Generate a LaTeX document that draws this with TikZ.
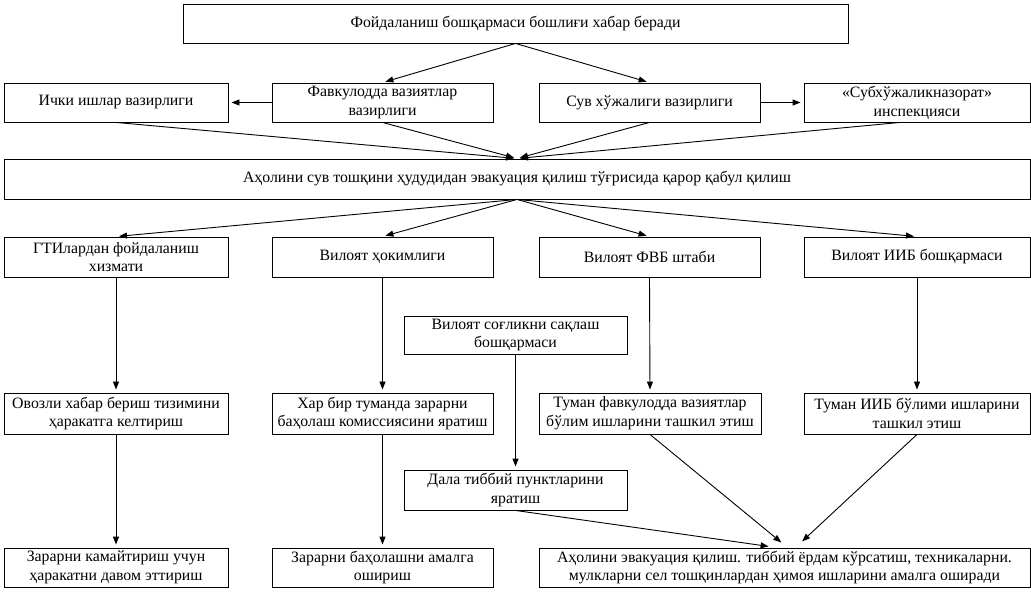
\documentclass[tikz,border=0pt]{standalone}
\usepackage{fontspec}
\setmainfont{Liberation Serif}
\usetikzlibrary{arrows.meta}

\begin{document}
\begin{tikzpicture}
[x=1pt,y=-1pt,
  boxDecorate/.style={shape=rectangle,draw,line width=0.9pt,inner sep=0pt,align=center,%
    font=\fontsize{15.8}{18.8}\selectfont},
  lineDecorate/.style={-{Triangle[length=8pt,width=6pt]},line width=0.9pt}]
\useasboundingbox (0,0) rectangle (1031,593);
%% boxes
\foreach \nodename/\x/\y/\w/\h/\txt in {
  top/515.5/23.5/665/39/{Фойдаланиш бошқармаси бошлиғи хабар беради},
  mvd/116/102.5/224/39/{Ички ишлар вазирлиги},
  fvv/382.5/102.5/221/39/{Фавкулодда вазиятлар\\вазирлиги},
  svx/649.5/102.5/221/39/{Сув хўжалиги вазирлиги},
  snaz/917/102.5/226/39/{«Субхўжаликназорат»\\инспекцияси},
  evak/517/179/1026/40/{Аҳолини сув тошқини ҳудудидан эвакуация қилиш тўғрисида қарор қабул қилиш},
  gti/116/257/224/40/{ГТИлардан фойдаланиш\\хизмати},
  hok/382.5/257/221/40/{Вилоят ҳокимлиги},
  fvb/649.5/257/221/40/{Вилоят ФВБ штаби},
  iib/917/257/226/40/{Вилоят ИИБ бошқармаси},
  sog/515.5/335/223/38/{Вилоят соғликни сақлаш\\бошқармаси},
  ovoz/116/413.5/224/41/{Овозли хабар бериш тизимини\\ҳаракатга келтириш},
  har/382.5/413.5/221/41/{Хар бир туманда зарарни\\баҳолаш комиссиясини яратиш},
  tfv/650/413.5/222/41/{Туман фавкулодда вазиятлар\\бўлим ишларини ташкил этиш},
  tiib/917/413.5/226/41/{Туман ИИБ бўлими ишларини\\ташкил этиш},
  dala/515.5/490/223/40/{Дала тиббий пунктларини\\яратиш},
  kam/116/567.5/224/39/{Зарарни камайтириш учун\\ҳаракатни давом эттириш},
  bah/382.5/567.5/221/39/{Зарарни баҳолашни амалга\\ошириш},
  aholi/784.5/567.5/491/39/{Аҳолини эвакуация қилиш. тиббий ёрдам кўрсатиш, техникаларни.\\мулкларни сел тошқинлардан ҳимоя ишларини амалга оширади}}
{
  \node (\nodename) at (\x,\y) [boxDecorate,minimum width=\w pt,minimum height=\h pt] {\txt};
}
%% arrows
\path
\foreach \startnode/\endnode in {
  top.south/fvv.north, top.south/svx.north,
  mvd.south/evak.north, fvv.south/evak.north, svx.south/evak.north,
  evak.south/gti.north, evak.south/hok.north, evak.south/fvb.north, evak.south/iib.north,
  gti.south/ovoz.north, hok.south/har.north, fvb.south/tfv.north, iib.south/tiib.north,
  sog.south/dala.north, ovoz.south/kam.north, har.south/bah.north}
{
  (\startnode) edge[lineDecorate,shorten >=3pt] (\endnode)
};
\draw[lineDecorate,shorten >=3pt] ([xshift=-17pt]snaz.south) -- (evak.north);
\draw[lineDecorate,shorten >=3pt] (fvv.west) -- (mvd.east);
\draw[lineDecorate,shorten >=3pt] (svx.east) -- (snaz.west);
\draw[lineDecorate,shorten >=8pt] (tfv.south) -- ([xshift=3pt]aholi.north);
\draw[lineDecorate,shorten >=9pt] (tiib.south) -- ([xshift=11pt]aholi.north);
\draw[lineDecorate,shorten >=8pt] (dala.south) -- ([xshift=-8pt]aholi.north);
\end{tikzpicture}
\end{document}
